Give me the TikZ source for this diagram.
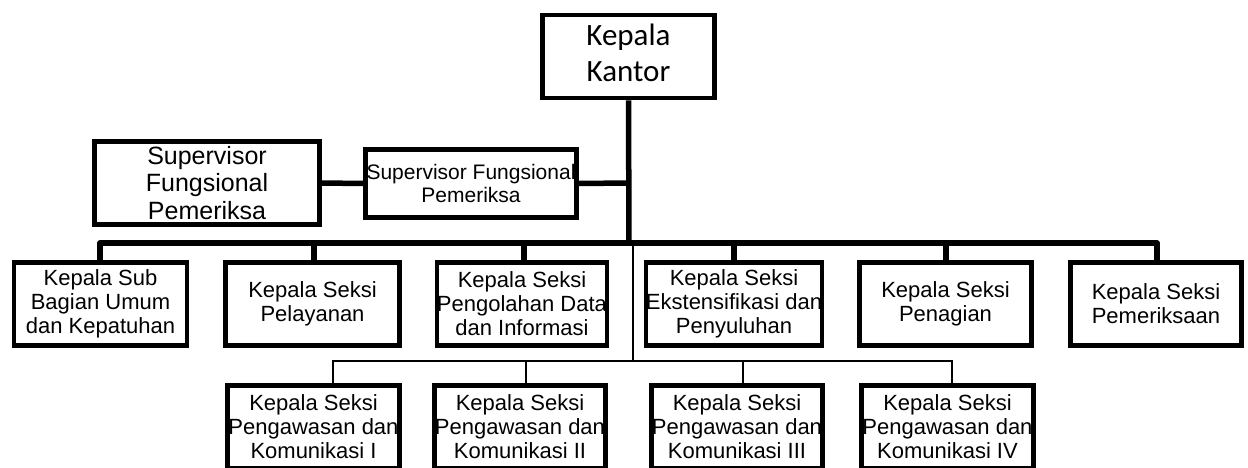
\documentclass[tikz,border=0pt]{standalone}
\usepackage{fontspec}
\setmainfont{Liberation Sans}
\newfontfamily\calibri{Carlito}
\begin{document}
\begin{tikzpicture}[x=1pt,y=-1pt,
  box/.style={draw=black,line width=4.8pt,fill=white,align=center,inner sep=0pt,
    font=\fontsize{22}{24}\selectfont},
  thick conn/.style={draw=black,line width=5.5pt,line join=round},
  thin conn/.style={draw=black,line width=1.5pt}]
\useasboundingbox (0,0) rectangle (1248,468);
% top
\node[box,minimum width=172pt,minimum height=83pt,font=\calibri\fontsize{31}{36}\selectfont] (kk) at (628.5,56.5) {\raisebox{3pt}{\begin{tabular}{@{}c@{}}Kepala\\Kantor\end{tabular}}};
\node[box,minimum width=225pt,minimum height=83pt,font=\fontsize{25}{27.5}\selectfont] (sup1) at (207,183) {Supervisor\\Fungsional\\Pemeriksa};
\node[box,minimum width=211pt,minimum height=68pt,font=\fontsize{21}{23}\selectfont] (sup2) at (471,183.5) {Supervisor Fungsional\\Pemeriksa};
% row 1
\foreach \n/\cx/\w/\t in {
  b1/100.5/173/{Kepala Sub\\Bagian Umum\\dan Kepatuhan},
  b2/312.5/174/{Kepala Seksi\\Pelayanan},
  b3/522/170/{Kepala Seksi\\Pengolahan Data\\dan Informasi},
  b4/734/173/{Kepala Seksi\\Ekstensifikasi dan\\Penyuluhan},
  b5/945.5/172/{Kepala Seksi\\Penagian},
  b6/1156/171/{Kepala Seksi\\Pemeriksaan}}{
  \node[box,minimum width=\w pt,minimum height=83pt] (\n) at (\cx,304) {\t};
}
% row 2
\foreach \n/\cx/\w/\t in {
  c1/313.5/172/{Kepala Seksi\\Pengawasan dan\\Komunikasi I},
  c2/520/171/{Kepala Seksi\\Pengawasan dan\\Komunikasi II},
  c3/737/171/{Kepala Seksi\\Pengawasan dan\\Komunikasi III},
  c4/947.5/172/{Kepala Seksi\\Pengawasan dan\\Komunikasi IV}}{
  \node[box,minimum width=\w pt,minimum height=83pt] (\n) at (\cx,427) {\t};
}
% coordinates
\coordinate (barL) at (100,243);
\coordinate (barR) at (1157,243);
\coordinate (barM) at (629,243);
\coordinate (supJ) at (629,183);
\coordinate (thinTop) at (633,243);
\coordinate (thinBot) at (633,361);
\coordinate (thinL) at (333,361);
\coordinate (thinR) at (952,361);
% thin lines
\draw[thin conn] (thinTop) -- (thinBot);
\draw[thin conn] (c1.north -| thinL) -- (thinL) -- (thinR) -- (c4.north -| thinR);
\draw[thin conn] (c2.north -| 526,0) -- (526,361);
\draw[thin conn] (c3.north -| 743,0) -- (743,361);
% thick lines
\draw[thick conn] (kk.south) -- (barM);
\draw[thick conn] (b1.north -| barL) -- (barL) -- (barR) -- (b6.north -| barR);
\draw[thick conn] (b2.north -| 314,0) -- (314,243);
\draw[thick conn] (b3.north -| 524,0) -- (524,243);
\draw[thick conn] (b4.north -| 734,0) -- (734,243);
\draw[thick conn] (b5.north -| 946,0) -- (946,243);
\draw[thick conn] (sup1.east) -- (sup2.west);
\draw[thick conn] (sup2.east) -- (supJ);
\end{tikzpicture}
\end{document}
